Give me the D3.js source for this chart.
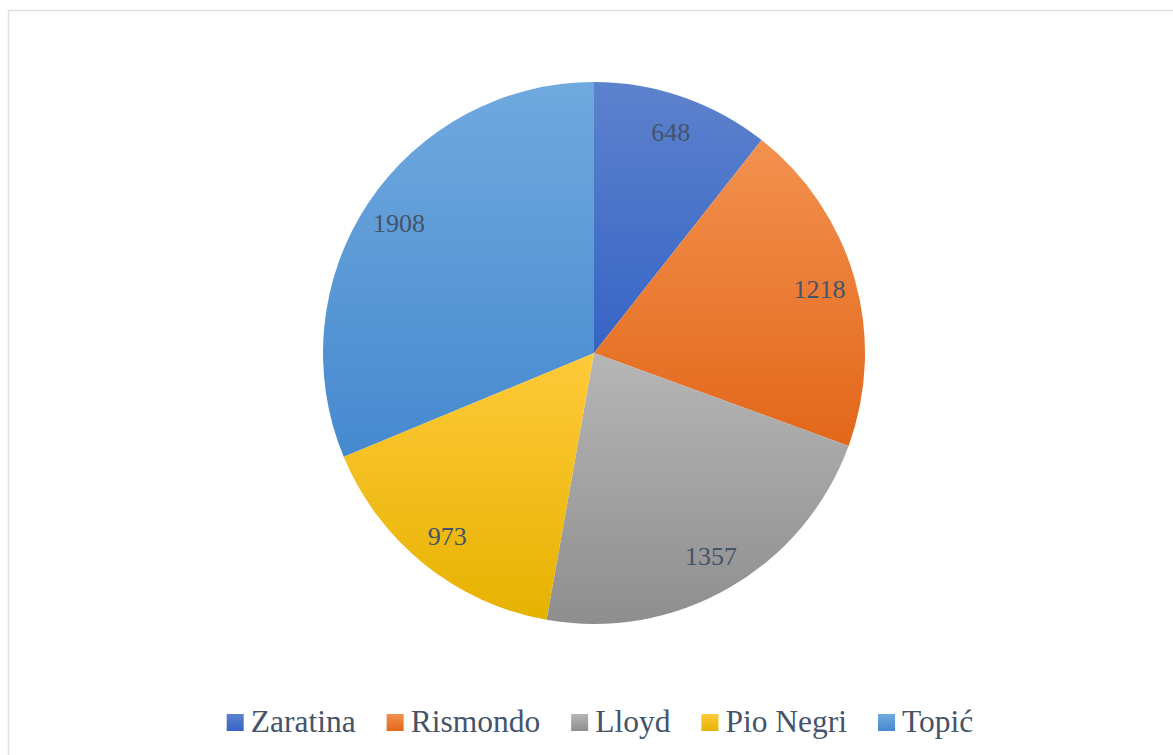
<!DOCTYPE html>
<html>
<head>
<meta charset="utf-8">
<script src="https://cdn.jsdelivr.net/npm/d3@7"></script>
<style>
  html, body { margin: 0; padding: 0; background: #fff; }
  svg { display: block; }
  .serif { font-family: "Liberation Serif", "DejaVu Serif", serif; }
</style>
</head>
<body>
<svg id="chart" width="1173" height="755"></svg>
<script>
const categories = ["Zaratina", "Rismondo", "Lloyd", "Pio Negri", "Topić"];
const values = [648, 1218, 1357, 973, 1908];
const topColors = ["#5d82cd", "#f3914f", "#b6b6b6", "#ffca3a", "#70a9de"];
const bottomColors = ["#3664c5", "#e2671a", "#8e8e8e", "#e6b200", "#4689cf"];

const W = 1173, H = 755;
const cx = 594, cy = 353, R = 271;

const svg = d3.select("#chart");

svg.append("rect")
  .attr("x", 8.5).attr("y", 10.5)
  .attr("width", 1200).attr("height", 800)
  .attr("fill", "#fff")
  .attr("stroke", "#dcdfe4").attr("stroke-width", 1.5);

const defs = svg.append("defs");
categories.forEach((c, i) => {
  const g = defs.append("linearGradient")
    .attr("id", "grad" + i)
    .attr("x1", 0).attr("y1", 0).attr("x2", 0).attr("y2", 1);
  g.append("stop").attr("offset", "0%").attr("stop-color", topColors[i]);
  g.append("stop").attr("offset", "100%").attr("stop-color", bottomColors[i]);
});

const data = categories.map((c, i) => ({ name: c, value: values[i], i }));
const pie = d3.pie().sort(null).value(d => d.value);
const arcs = pie(data);
const arc = d3.arc().innerRadius(0).outerRadius(R);
const labelArc = d3.arc().innerRadius(R * 0.865).outerRadius(R * 0.865);

const g = svg.append("g").attr("transform", `translate(${cx},${cy})`);
g.selectAll("path.slice")
  .data(arcs)
  .join("path")
  .attr("class", "slice")
  .attr("d", arc)
  .attr("fill", d => `url(#grad${d.data.i})`);

g.selectAll("text.lbl")
  .data(arcs)
  .join("text")
  .attr("class", "lbl serif")
  .attr("transform", d => `translate(${labelArc.centroid(d)})`)
  .attr("text-anchor", "middle")
  .attr("dy", "0.35em")
  .attr("font-size", 26)
  .attr("fill", "#44546a")
  .text(d => d.data.value);

const legend = svg.append("g");
const items = legend.selectAll("g.item").data(data).join("g").attr("class", "item");
items.append("rect")
  .attr("width", 17).attr("height", 17)
  .attr("fill", d => `url(#grad${d.i})`);
items.append("text")
  .attr("class", "serif")
  .attr("x", 24).attr("y", 17.5)
  .attr("font-size", 31.5)
  .attr("fill", "#44546a")
  .text(d => d.name);

let x = 0;
const positions = [];
items.each(function(d) {
  const tw = d3.select(this).select("text").node().getComputedTextLength();
  positions.push(x);
  x += 24 + tw + 31;
});
const totalW = x - 31;
const startX = 600 - totalW / 2;
items.attr("transform", (d, i) => `translate(${startX + positions[i]},714)`);
</script>
</body>
</html>
